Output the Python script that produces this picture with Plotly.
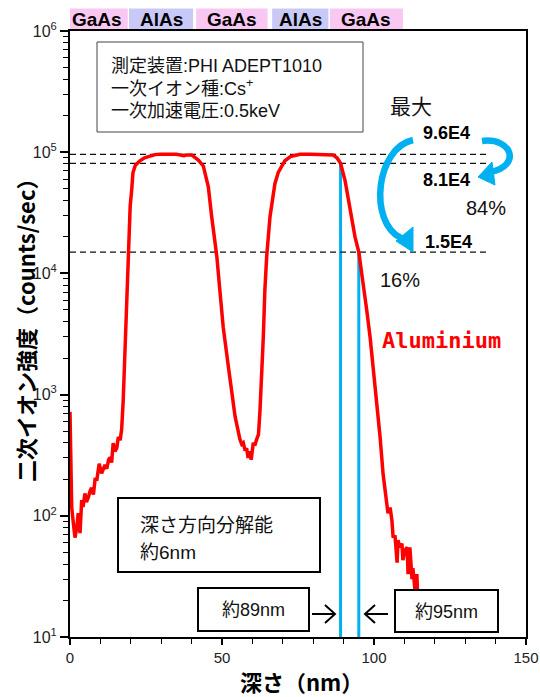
import plotly.graph_objects as go

# ---- SIMS depth profile: Al signal through a GaAs/AlAs stack ----
depth_nm = [
    0, 0.1, 0.25, 0.4, 0.56, 1.1, 1.64, 2.2, 2.7, 3.3, 3.85, 4.3, 4.9, 5.4, 6.0,
    6.6, 7.1, 7.7, 8.3, 8.8, 9.6, 10.4, 11.0, 11.5, 12.1, 12.7, 13.2, 13.7, 14.2,
    14.8, 15.4, 15.9, 16.5, 17.0, 17.5, 18.1, 18.65, 19.2, 19.8, 20.3, 20.7, 21.5,
    23.0, 24.5, 26.3, 28.0, 29.6, 32.0, 35.0, 37.5, 38.5, 40.0, 41.1, 42.2, 43.85,
    44.6, 45.5, 46.6, 48.3, 49.3, 50.4, 52.1, 53.2, 54.3, 55.9, 56.5, 57.0, 57.6,
    58.1, 58.6, 59.1, 59.6, 60.3, 60.8, 61.4, 62.0, 62.5, 63.1, 63.6, 64.1, 64.7,
    65.8, 67.4, 68.5, 69.6, 70.7, 72.5, 75.7, 79.0, 82.0, 86.5, 87.8, 89.0, 90.5,
    92.1, 93.75, 95.0, 96.5, 97.6, 98.7, 99.8, 100.9, 102.0, 103.0, 103.6, 104.6,
    105.3, 105.9, 106.3, 106.9, 107.6, 107.9, 108.5, 109.2, 109.5, 110.2, 110.9,
    111.2, 111.8, 112.5, 112.8, 113.5, 114.1, 114.3,
]
al_counts = [
    720, 560, 330, 190, 117, 87, 66, 79, 105, 72, 135, 118, 153, 130, 141,
    160, 170, 150, 205, 195, 269, 224, 250, 263, 245, 290, 302, 275, 398,
    340, 363, 447, 420, 520, 891, 2340, 8300, 21400, 36000, 49000, 67600, 78000,
    85000, 90000, 93000, 95500, 96000, 95500, 96000, 93500, 95000, 95000, 91000, 86000, 77000,
    64000, 51800, 29500, 13800, 7240, 3600, 1700, 1100, 660, 427, 390, 400, 345,
    360, 300, 340, 290, 400, 380, 427, 470, 741, 1410, 3020, 7240, 13800,
    29500, 55000, 68000, 76000, 85000, 92000, 96000, 96000, 95500, 95000, 90000, 81000, 58000,
    33000, 20000, 15000, 8300, 5000, 3000, 1600, 955, 447, 220, 162, 105,
    117, 91, 66, 69, 41, 63, 55, 59, 43, 52, 55,
    33, 55, 30, 37, 24, 33, 24,
]

# reference levels: maximum, value at 89 nm, value at 95 nm
level_labels = ["9.6E4", "8.1E4", "1.5E4"]
level_values = [9.6e4, 8.1e4, 1.5e4]
level_span_nm = [0, 137]

# depth markers for the resolution estimate
edge_depths_nm = [89, 95]
edge_levels = [8.1e4, 1.5e4]
edge_labels = ["約89nm", "約95nm"]

# layer structure (nm)
layer_names = ["GaAs", "AlAs", "GaAs", "AlAs", "GaAs"]
layer_starts = [-1.0, 19.4, 41.5, 66.5, 85.5]
layer_ends = [19.0, 40.5, 65.0, 85.0, 109.5]
layer_colors = {"GaAs": "#F9C8F2", "AlAs": "#C9C9F7"}

y_tick_vals = [1e1, 1e2, 1e3, 1e4, 1e5, 1e6]
y_tick_text = ["10<sup>1</sup>", "10<sup>2</sup>", "10<sup>3</sup>",
               "10<sup>4</sup>", "10<sup>5</sup>", "10<sup>6</sup>"]
x_tick_vals = [0, 50, 100, 150]

RED = "#FF0000"
BLUE = "#00B0F0"
JP = "Liberation Sans, Noto Sans CJK JP"

W, H = 540, 697
ML, MR, MT, MB = 70, 14, 31, 60
PW, PH = W - ML - MR, H - MT - MB


def pap(px, py):
    """page pixel -> paper coordinates"""
    return (px - ML) / PW, (H - MB - py) / PH


fig = go.Figure()

# blue depth markers
for d, lv in zip(edge_depths_nm, edge_levels):
    fig.add_trace(go.Scatter(x=[d, d], y=[10, lv], mode="lines",
                             line=dict(color=BLUE, width=3), hoverinfo="skip"))

# dashed reference levels
for lv in level_values:
    fig.add_trace(go.Scatter(x=level_span_nm, y=[lv, lv], mode="lines",
                             line=dict(color="#111", width=1.2, dash="6px,4px"),
                             hoverinfo="skip"))

# Al profile
fig.add_trace(go.Scatter(x=depth_nm, y=al_counts, mode="lines",
                         line=dict(color=RED, width=3.5), name="Aluminium"))

shapes = []
annotations = []

# layer banner above the plot
for name, s, e in zip(layer_names, layer_starts, layer_ends):
    shapes.append(dict(type="rect", xref="x", yref="paper", x0=s, x1=e,
                       y0=1.0, y1=1.037, fillcolor=layer_colors[name],
                       line=dict(width=0), layer="below"))
    annotations.append(dict(x=(s + e) / 2, y=1.0185, xref="x", yref="paper",
                            text="<b>%s</b>" % name, showarrow=False,
                            font=dict(family="Liberation Sans", size=19, color="#000"),
                            xanchor="center", yanchor="middle"))


def box(px0, py0, px1, py1, color="#000", width=2):
    x0, y0 = pap(px0, py1)
    x1, y1 = pap(px1, py0)
    shapes.append(dict(type="rect", xref="paper", yref="paper", x0=x0, x1=x1,
                       y0=y0, y1=y1, line=dict(color=color, width=width),
                       fillcolor="rgba(0,0,0,0)"))


def text(px, py, s, size, anchor="left", bold=False, color="#111", family=JP):
    x, y = pap(px, py)
    annotations.append(dict(x=x, y=y, xref="paper", yref="paper",
                            text=("<b>%s</b>" % s) if bold else s,
                            showarrow=False, xanchor=anchor, yanchor="middle",
                            font=dict(family=family, size=size, color=color)))


# instrument box
box(97, 42, 363, 132, color="#444", width=1)
text(109, 66, "測定装置:PHI ADEPT1010", 18)
text(109, 88, "一次イオン種:Cs<sup>+</sup>", 18)
text(109, 111, "一次加速電圧:0.5keV", 18)

# resolution box
box(118, 498, 320, 572)
text(138, 525, "深さ方向分解能", 19)
text(138, 552, "約6nm", 19)

# depth label boxes
box(198, 588, 309, 631)
text(253.5, 610, edge_labels[0], 18, anchor="center")
box(395, 590, 498, 632)
text(446.5, 612, edge_labels[1], 18, anchor="center")


def path(cmds):
    """build an SVG path in paper units from (command, (px, py)) pairs"""
    out = []
    for cmd, pt in cmds:
        if pt is None:
            out.append(cmd)
            continue
        if cmd == "C":
            coords = []
            for px, py in pt:
                x, y = pap(px, py)
                coords.append("%.5f,%.5f" % (x, y))
            out.append("C" + " ".join(coords))
        else:
            x, y = pap(*pt)
            out.append("%s%.5f,%.5f" % (cmd, x, y))
    return " ".join(out)


# open chevron arrows pointing at the blue markers
shapes.append(dict(type="path", xref="paper", yref="paper",
                   path=path([("M", (312, 614)), ("L", (335, 614)),
                              ("M", (325, 605)), ("L", (335, 614)), ("L", (325, 623))]),
                   line=dict(color="#000", width=2)))
shapes.append(dict(type="path", xref="paper", yref="paper",
                   path=path([("M", (388, 614)), ("L", (365, 614)),
                              ("M", (375, 605)), ("L", (365, 614)), ("L", (375, 623))]),
                   line=dict(color="#000", width=2)))

# curved blue arrows between the levels
shapes.append(dict(type="path", xref="paper", yref="paper",
                   path=path([("M", (413, 140)),
                              ("C", [(376, 148), (368, 222), (401, 238)])]),
                   line=dict(color=BLUE, width=6.5)))
shapes.append(dict(type="path", xref="paper", yref="paper",
                   path=path([("M", (396, 241)), ("L", (413, 227)), ("L", (413, 252)),
                              ("Z", None)]),
                   line=dict(color=BLUE, width=1), fillcolor=BLUE))
shapes.append(dict(type="path", xref="paper", yref="paper",
                   path=path([("M", (482, 141)),
                              ("C", [(512, 137), (522, 166), (490, 172)])]),
                   line=dict(color=BLUE, width=6.5)))
shapes.append(dict(type="path", xref="paper", yref="paper",
                   path=path([("M", (478, 177)), ("L", (492, 162)), ("L", (495, 185)),
                              ("Z", None)]),
                   line=dict(color=BLUE, width=1), fillcolor=BLUE))

# level labels
text(411, 107, "最大", 21, anchor="center")
text(446, 133, level_labels[0], 18, anchor="center", bold=True, color="#000")
text(446, 180, level_labels[1], 18, anchor="center", bold=True, color="#000")
text(448, 242, level_labels[2], 18, anchor="center", bold=True, color="#000")
text(486, 208, "84%", 20, anchor="center")
text(400, 280, "16%", 20, anchor="center")
text(441, 340, "Aluminium", 22, anchor="center", bold=True, color=RED,
     family="DejaVu Sans Mono")

# axis titles
text(301, 681, "深さ（nm）", 22, anchor="center", bold=True, color="#000",
     family="Noto Sans CJK JP")
x, y = pap(25, 325)
annotations.append(dict(x=x, y=y, xref="paper", yref="paper",
                        text="<b>二次イオン強度（counts/sec）</b>", textangle=-90,
                        showarrow=False, xanchor="center", yanchor="middle",
                        font=dict(family="Noto Sans CJK JP", size=22, color="#000")))

y_minor = [m * 10 ** e for e in range(1, 6) for m in range(2, 10)]

fig.update_layout(
    width=W, height=H,
    margin=dict(l=ML, r=MR, t=MT, b=MB, pad=0, autoexpand=False),
    paper_bgcolor="white", plot_bgcolor="white",
    showlegend=False,
    shapes=shapes, annotations=annotations,
    xaxis=dict(range=[0, 150], tickvals=x_tick_vals, ticks="outside", ticklen=6,
               tickwidth=1.5, tickcolor="#000", showgrid=False, zeroline=False,
               showline=True, linecolor="#000", linewidth=2, mirror=True,
               automargin=False,
               tickfont=dict(family="Liberation Sans", size=15, color="#222"),
               minor=dict(dtick=10, ticks="outside", ticklen=5, tickwidth=1.2,
                          tickcolor="#000", showgrid=False)),
    yaxis=dict(type="log", range=[1, 6], tickvals=y_tick_vals, ticktext=y_tick_text,
               ticks="outside", ticklen=8, tickwidth=1.5, tickcolor="#000",
               showgrid=False, zeroline=False, showline=True, linecolor="#000",
               linewidth=2, mirror=True, automargin=False,
               tickfont=dict(family="Liberation Sans", size=16, color="#222"),
               minor=dict(tickvals=y_minor, ticks="outside", ticklen=5, tickwidth=1.2,
                          tickcolor="#000", showgrid=False)),
)

fig.write_html("out.html")
